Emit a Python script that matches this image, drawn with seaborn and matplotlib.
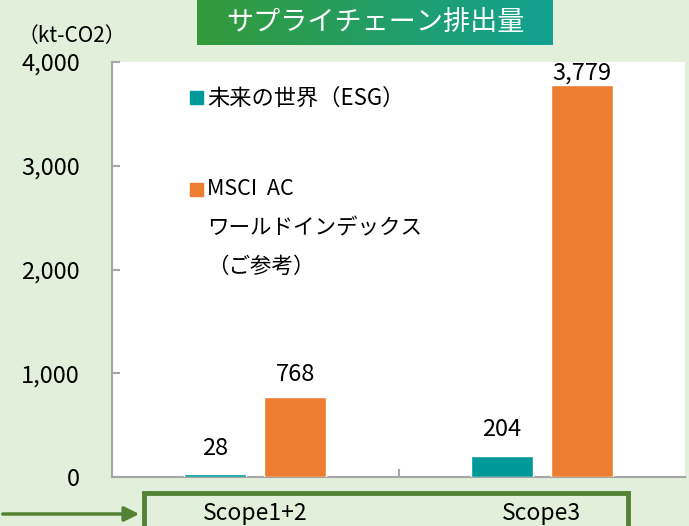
import numpy as np
import pandas as pd
import matplotlib.pyplot as plt
import seaborn as sns
from matplotlib.patches import Rectangle
from matplotlib.colors import LinearSegmentedColormap

# データ
scopes = ['Scope1+2', 'Scope3']
series = ['未来の世界（ESG）', 'MSCI  AC\nワールドインデックス\n（ご参考）']
esg_values = [28, 204]
msci_values = [768, 3779]
yticks = [0, 1000, 2000, 3000, 4000]
title = 'サプライチェーン排出量'
unit = '（kt-CO2）'
colors = ['#009999', '#ED7D31']

df = pd.DataFrame({
    'scope': scopes * 2,
    'series': [series[0]] * len(scopes) + [series[1]] * len(scopes),
    'value': esg_values + msci_values,
})

sns.set_style('white')
plt.rcParams['font.family'] = ['Noto Sans CJK JP', 'DejaVu Sans']

bg = '#E2EFDA'
frame_green = '#548235'
gray = '#A6A6A6'
W, H = 689, 526


def fx(px):
    return px / W


def fy(py):
    return 1 - py / H


fig = plt.figure(figsize=(6.89, 5.26), dpi=100, facecolor=bg)
ax = fig.add_axes([fx(112), fy(477), 573 / W, 415 / H])
ax.set_facecolor('white')

sns.barplot(data=df, x='scope', y='value', hue='series', hue_order=series,
            palette=colors, width=0.56, gap=0.225, saturation=1,
            errorbar=None, legend=False, ax=ax, zorder=3)

# 値ラベル
label_offsets = [[14, 14], [12, 4]]
for cont, offs in zip(ax.containers, label_offsets):
    for bar, off in zip(cont, offs):
        h = bar.get_height()
        ax.annotate(f'{h:,.0f}', xy=(bar.get_x() + bar.get_width() / 2, h),
                    xytext=(0, off), textcoords='offset points',
                    ha='center', va='baseline', fontsize=17, color='black')

ax.set_xlim(-0.5, 1.5)
ax.set_ylim(0, 4000)
ax.set_yticks(yticks, [f'{v:,}' for v in yticks])
ax.set_xticks([0, 1], scopes)
ax.set_xticks([0.5], minor=True)
ax.set_xlabel('')
ax.set_ylabel('')

for s in ['top', 'right']:
    ax.spines[s].set_visible(False)
for s in ['left', 'bottom']:
    ax.spines[s].set_color(gray)
    ax.spines[s].set_linewidth(1.5)
    ax.spines[s].set_zorder(2)

ax.tick_params(axis='y', direction='in', length=6, width=1.5, color=gray,
               pad=23, labelsize=17, labelcolor='black', left=True)
ax.tick_params(axis='x', which='major', length=0, pad=18, labelsize=16.5,
               labelcolor='black')
ax.tick_params(axis='x', which='minor', direction='in', length=6, width=1.5,
               color=gray, bottom=True)

# 凡例（手描き）
fig.patches.append(Rectangle((fx(190), fy(104)), 13 / W, 13 / H,
                             transform=fig.transFigure, color=colors[0]))
fig.text(fx(207), fy(98), series[0], ha='left', va='center', fontsize=16,
         color='black')
fig.patches.append(Rectangle((fx(190), fy(196)), 13 / W, 13 / H,
                             transform=fig.transFigure, color=colors[1]))
for i, line in enumerate(series[1].split('\n')):
    fig.text(fx(207), fy(189 + i * 39), line, ha='left', va='center',
             fontsize=15.5, color='black')

# 単位
fig.text(fx(72), fy(36), unit, ha='center', va='center', fontsize=15,
         color='black')

# タイトル（グラデーションの帯）
tax = fig.add_axes([fx(197), fy(45), 356 / W, 45 / H])
cmap = LinearSegmentedColormap.from_list('g', ['#349A3A', '#12A192'])
tax.imshow(np.linspace(0, 1, 256).reshape(1, -1), aspect='auto', cmap=cmap,
           extent=[0, 1, 0, 1])
tax.axis('off')
tax.text(0.5, 0.5, title, ha='center', va='center', color='white',
         fontsize=19.5, transform=tax.transAxes)

# 下の枠と矢印
fig.patches.append(Rectangle((fx(144), fy(545)), (628 - 144) / W, (545 - 493) / H,
                             transform=fig.transFigure, fill=False,
                             edgecolor=frame_green, lw=3.5))
ax.annotate('', xy=(fx(142), fy(514)), xytext=(0, fy(514)),
            xycoords='figure fraction', textcoords='figure fraction',
            arrowprops=dict(arrowstyle='-|>', color=frame_green, lw=2.5,
                            mutation_scale=22))

fig.savefig('out.png', dpi=100, facecolor=bg)
